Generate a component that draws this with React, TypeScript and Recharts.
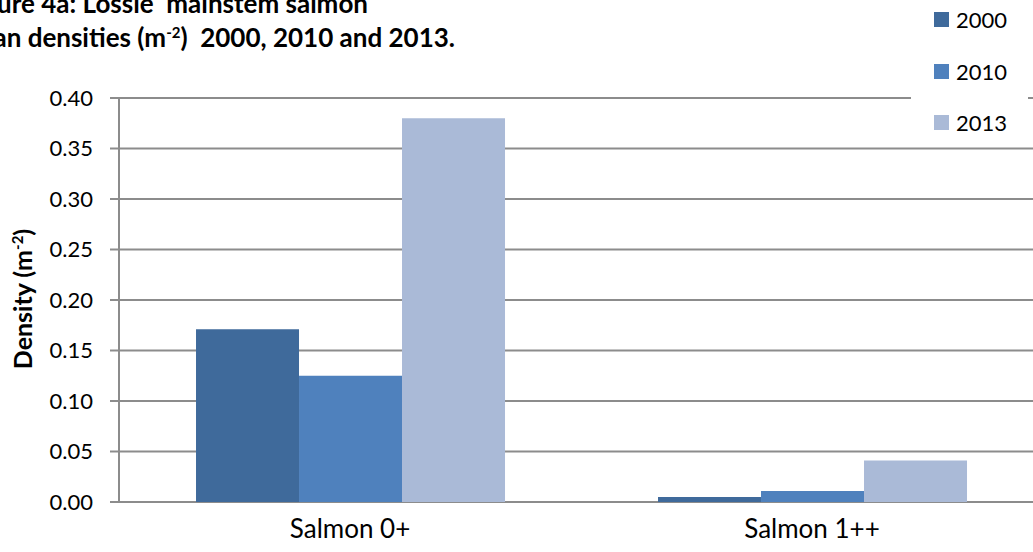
import { BarChart, Bar, XAxis, YAxis, CartesianGrid, Label } from "recharts";

const categories = ["Salmon 0+", "Salmon 1++"];
const years = ["2000", "2010", "2013"];
const density2000 = [0.171, 0.005];
const density2010 = [0.125, 0.011];
const density2013 = [0.38, 0.041];
const yTicks = [0, 0.05, 0.1, 0.15, 0.2, 0.25, 0.3, 0.35, 0.4];

const colors = ["#3F6A9B", "#4F81BD", "#AABAD7"];
const font = "Lato, 'Open Sans', sans-serif";

const data = categories.map((name, i) => ({
  name,
  y2000: density2000[i],
  y2010: density2010[i],
  y2013: density2013[i],
}));

const YLabel = ({ viewBox }: any) => {
  const cy = viewBox ? viewBox.y + viewBox.height / 2 - 1 : 299;
  return (
    <text
      x={0}
      y={0}
      transform={`translate(32, ${cy}) rotate(-90)`}
      textAnchor="middle"
      fontFamily={font}
      fontWeight={700}
      fontSize={25}
      fill="#000"
    >
      Density (m<tspan baselineShift="super" fontSize={15}>-2</tspan>)
    </text>
  );
};

const App = () => {
  const keys = ["y2000", "y2010", "y2013"];
  return (
    <div style={{ position: "absolute", left: 0, top: 0, width: 1033, height: 552, overflow: "hidden", background: "#fff" }}>
      <BarChart
        width={1050}
        height={552}
        data={data}
        margin={{ top: 98, right: 7, bottom: 20, left: 0 }}
        barCategoryGap="16.67%"
        barGap={0}
      >
        <CartesianGrid vertical={false} stroke="#8C8C8C" strokeWidth={2} />
        <XAxis
          dataKey="name"
          height={30}
          axisLine={false}
          tickLine={false}
          tick={{ fill: "#000", fontSize: 26, fontFamily: font }}
          tickMargin={12}
        />
        <YAxis
          domain={[0, 0.4]}
          ticks={yTicks}
          width={119}
          interval={0}
          tickFormatter={(v: number) => v.toFixed(2)}
          stroke="#8C8C8C"
          strokeWidth={2}
          tickSize={9}
          tickMargin={17}
          tick={{ fill: "#000", fontSize: 22, fontFamily: font }}
        >
          <Label content={<YLabel />} />
        </YAxis>
        {keys.map((k, i) => (
          <Bar key={k} dataKey={k} name={years[i]} fill={colors[i]} isAnimationActive={false} />
        ))}
      </BarChart>

      <svg width={1033} height={80} style={{ position: "absolute", left: 0, top: 0 }}>
        <text x={368} y={13} textAnchor="end" fontFamily={font} fontWeight={700} fontSize={26} fill="#000" xmlSpace="preserve">
          {"Figure 4a: Lossie  mainstem salmon"}
        </text>
        <text x={455} y={47} textAnchor="end" fontFamily={font} fontWeight={700} fontSize={26} fill="#000" xmlSpace="preserve">
          {"mean densities (m"}
          <tspan baselineShift="super" fontSize={15}>-2</tspan>
          {")  2000, 2010 and 2013."}
        </text>
      </svg>

      <div style={{ position: "absolute", left: 911, top: 0, width: 117, height: 147, background: "#fff" }}>
        {years.map((y, i) => (
          <div
            key={y}
            style={{ position: "absolute", left: 23, top: 6 + i * 51.5, display: "flex", alignItems: "center", fontFamily: font, fontSize: 22, color: "#000" }}
          >
            <span style={{ display: "inline-block", width: 15, height: 15, background: colors[i], marginRight: 7 }} />
            {y}
          </div>
        ))}
      </div>
    </div>
  );
};

export default App;
